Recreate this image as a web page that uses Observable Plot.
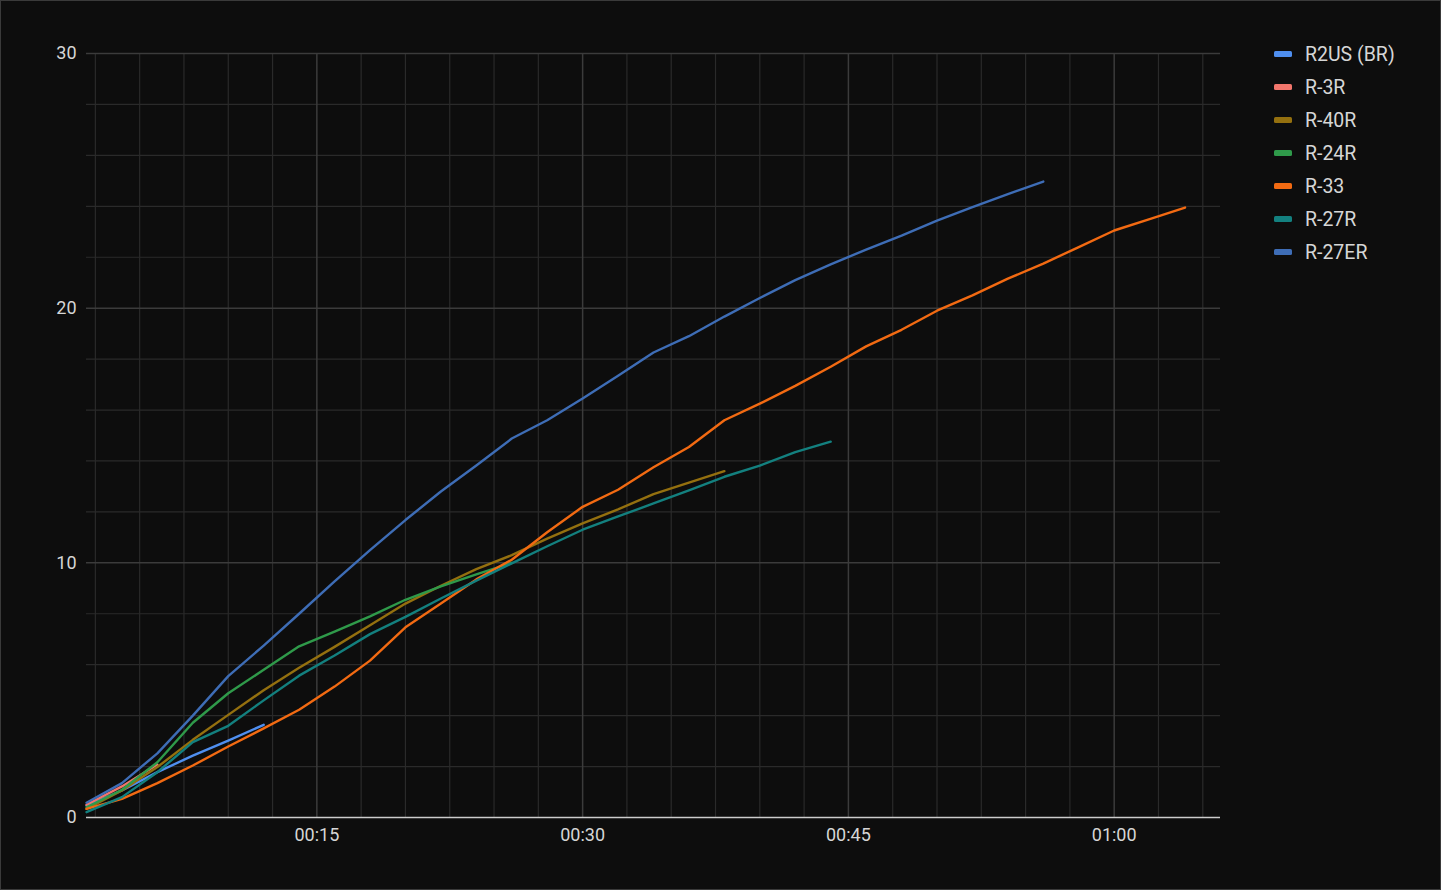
<!DOCTYPE html>
<html>
<head>
<meta charset="utf-8">
<script src="https://cdn.jsdelivr.net/npm/d3@7"></script>
<script src="https://cdn.jsdelivr.net/npm/@observablehq/plot@0.6"></script>
<style>
  html, body { margin: 0; padding: 0; background: #0d0d0d; }
  #wrap { position: relative; width: 1441px; height: 890px; overflow: hidden; background: #0d0d0d; }
  #frame { position: absolute; left: 0; top: 0; width: 1441px; height: 890px; box-sizing: border-box; border: 1px solid #3a3a3a; pointer-events: none; }
  #chart { position: absolute; left: 0; top: 0; }
  #legend { position: absolute; left: 1274px; top: 37.5px; font-family: Roboto, "Liberation Sans", sans-serif; font-size: 19.5px; color: #d6d6d6; }
  .item { display: flex; align-items: center; height: 33px; margin: 0; white-space: nowrap; }
  .sw { width: 18px; height: 5.5px; border-radius: 1.5px; margin-right: 13px; flex: none; }
</style>
</head>
<body>
<div id="wrap">
  <div id="chart"></div>
  <div id="legend"></div>
  <div id="frame"></div>
</div>
<script>
// Elapsed time (minutes) of each sample
const minutes = [2,4,6,8,10,12,14,16,18,20,22,24,26,28,30,32,34,36,38,40,42,44,46,48,50,52,54,56,58,60,62,64];

// Series values
const r2usBR = [0.47,1.06,1.78,2.43,3.02,3.64];
const r3R    = [0.5,1.22,2.08];
const r40R   = [0.34,1.06,1.98,3.05,4.03,5.0,5.88,6.7,7.55,8.4,9.1,9.75,10.3,10.95,11.55,12.1,12.7,13.15,13.6];
const r24R   = [0.4,1.09,2.17,3.72,4.88,5.8,6.72,7.3,7.9,8.55,9.08,9.55,10.0];
const r33    = [0.34,0.73,1.35,2.04,2.79,3.5,4.23,5.14,6.16,7.47,8.4,9.35,10.12,11.2,12.2,12.87,13.75,14.55,15.6,16.25,16.95,17.7,18.5,19.15,19.9,20.5,21.16,21.75,22.4,23.05,23.5,23.95];
const r27R   = [0.21,0.8,1.78,2.96,3.6,4.6,5.57,6.36,7.2,7.88,8.6,9.3,9.98,10.65,11.3,11.82,12.33,12.85,13.38,13.82,14.35,14.76];
const r27ER  = [0.58,1.35,2.52,4.0,5.55,6.75,8.0,9.27,10.5,11.68,12.8,13.82,14.88,15.6,16.45,17.35,18.26,18.9,19.67,20.4,21.1,21.72,22.3,22.85,23.44,23.97,24.48,24.97];

const seriesNames  = ["R2US (BR)","R-3R","R-40R","R-24R","R-33","R-27R","R-27ER"];
const seriesValues = [r2usBR, r3R, r40R, r24R, r33, r27R, r27ER];
const seriesColors = ["#4f8ff0","#f2766c","#94700f","#2f9a4a","#f26a12","#13807f","#3e6db6"];

// Axis ticks
const xTickValues = [15,30,45,60];
const xTickLabels = ["00:15","00:30","00:45","01:00"];
const yTickValues = [0,10,20,30];
const yTickLabels = ["0","10","20","30"];

const rows = seriesNames.flatMap((name, si) =>
  seriesValues[si].map((v, i) => ({series: name, t: minutes[i], v}))
);

const minorX = d3.range(2.5, 66, 2.5).filter(d => !xTickValues.includes(d));
const minorY = d3.range(2, 30, 2).filter(d => !yTickValues.includes(d));

const chart = Plot.plot({
  width: 1441,
  height: 890,
  marginLeft: 86,
  marginRight: 221,
  marginTop: 53,
  marginBottom: 73,
  style: {background: "transparent", color: "#d6d6d6", fontFamily: "Roboto, 'Liberation Sans', sans-serif", fontSize: "18px"},
  x: {domain: [2, 66], ticks: xTickValues, tickFormat: (d) => xTickLabels[xTickValues.indexOf(d)], tickSize: 0, tickPadding: 11, label: null},
  y: {domain: [0, 30], ticks: yTickValues, tickFormat: (d) => yTickLabels[yTickValues.indexOf(d)], tickSize: 0, tickPadding: 10, label: null},
  color: {domain: seriesNames, range: seriesColors},
  marks: [
    Plot.gridX(minorX, {stroke: "#2a2a2a", strokeOpacity: 1, strokeWidth: 1.2}),
    Plot.gridY(minorY, {stroke: "#2a2a2a", strokeOpacity: 1, strokeWidth: 1.2}),
    Plot.gridX(xTickValues, {stroke: "#3b3b3b", strokeOpacity: 1, strokeWidth: 1.5}),
    Plot.gridY([10, 20, 30], {stroke: "#3b3b3b", strokeOpacity: 1, strokeWidth: 1.5}),
    Plot.ruleY([0], {stroke: "#cccccc", strokeWidth: 1.5}),
    Plot.lineY(rows, {x: "t", y: "v", z: "series", stroke: "series", strokeWidth: 2.4, curve: "linear"})
  ]
});
document.getElementById("chart").appendChild(chart);

const legend = document.getElementById("legend");
seriesNames.forEach((name, i) => {
  const item = document.createElement("div");
  item.className = "item";
  const sw = document.createElement("div");
  sw.className = "sw";
  sw.style.background = seriesColors[i];
  const label = document.createElement("span");
  label.textContent = name;
  item.appendChild(sw);
  item.appendChild(label);
  legend.appendChild(item);
});
</script>
</body>
</html>
